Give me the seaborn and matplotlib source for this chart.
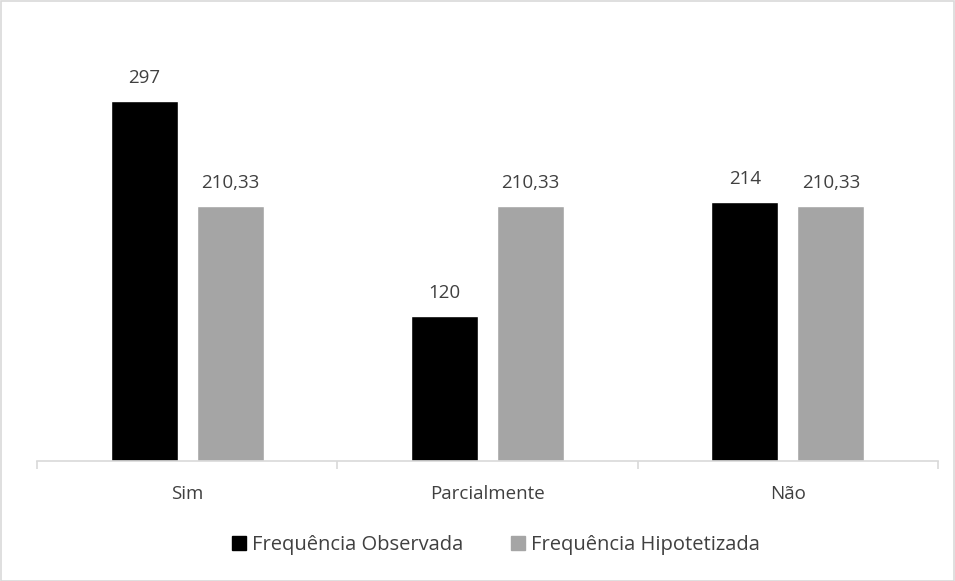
import matplotlib
matplotlib.use("Agg")
import matplotlib.pyplot as plt
import seaborn as sns
import pandas as pd
from matplotlib.patches import Rectangle

categories = ["Sim", "Parcialmente", "Não"]
observed = [297, 120, 214]
hypothesized = [210.33, 210.33, 210.33]
series_names = ["Frequência Observada", "Frequência Hipotetizada"]
colors = ["#000000", "#A5A5A5"]

df = pd.DataFrame({
    "cat": categories * 2,
    "val": observed + hypothesized,
    "serie": [series_names[0]] * 3 + [series_names[1]] * 3,
})

sns.set_theme(style="white")
plt.rcParams["font.family"] = ["Open Sans", "DejaVu Sans"]
txt = "#404040"
fs = 13.5

fig = plt.figure(figsize=(9.55, 5.81), dpi=100)
ax = fig.add_axes([37/955, 120/581, 901/955, 424/581])
sns.barplot(data=df, x="cat", y="val", hue="serie", palette=colors,
            width=0.573, gap=0.221, ax=ax, legend=False, saturation=1)
ax.set_xlim(-0.5, 2.5)
ax.set_ylim(0, 350)
ax.set_xlabel("")
ax.set_ylabel("")
ax.set_yticks([])
for s in ["top", "right", "left"]:
    ax.spines[s].set_visible(False)
ax.spines["bottom"].set_color("#D9D9D9")
ax.spines["bottom"].set_linewidth(1.2)
ax.tick_params(axis="x", which="major", bottom=True, length=0, labelsize=fs, labelcolor=txt, pad=17)
ax.set_xticks([-0.5, 0.5, 1.5, 2.5], minor=True)
ax.tick_params(axis="x", which="minor", bottom=True, length=6, color="#D9D9D9", width=1.2, direction="out")

for cont in ax.containers:
    labels = [("%.2f" % v).replace(".", ",") if v != int(v) else str(int(v)) for v in cont.datavalues]
    ax.bar_label(cont, labels=labels, padding=10, fontsize=fs, color=txt)

handles = [Rectangle((0, 0), 1, 1, color=c) for c in colors]
fig.legend(handles, series_names, loc="center", bbox_to_anchor=(496/955, 1 - 545/581),
           ncol=2, frameon=False, fontsize=14.5, labelcolor=txt, handlelength=0.7,
           handleheight=0.7, handletextpad=0.3, columnspacing=2.4)

fig.patches.append(Rectangle((0.5/955, 0.5/581), 1 - 1.5/955, 1 - 1.5/581, transform=fig.transFigure,
                             fill=False, edgecolor="#D9D9D9", linewidth=1.2))
fig.savefig("out.png", dpi=100)
